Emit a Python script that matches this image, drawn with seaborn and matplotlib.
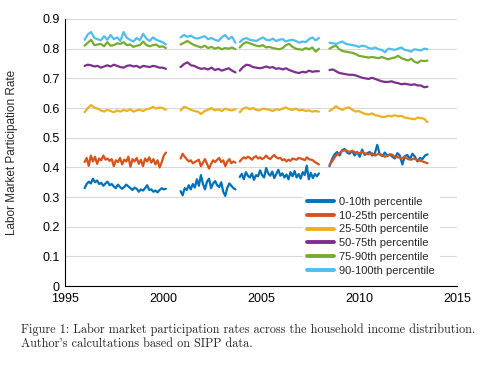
"""
Labor market participation rates across the household income distribution
(SIPP panels 1996, 2001, 2004, 2008). Values read off the published figure.
"""

import numpy as np
import pandas as pd
import matplotlib.pyplot as plt
import seaborn as sns
from matplotlib.ticker import FuncFormatter

# ---------------------------------------------------------------
# 1. Data (one sub-list per SIPP panel)
# ---------------------------------------------------------------
panel_spans = [(1996.0, 2000.15), (2000.9, 2003.7), (2003.92, 2007.96), (2008.5, 2013.5)]

groups = ["0-10th percentile", "10-25th percentile", "25-50th percentile",
          "50-75th percentile", "75-90th percentile", "90-100th percentile"]
colors = ["#0072BD", "#D95319", "#EDB120", "#7E2F8E", "#77AC30", "#4DBEEE"]

pct_0_10 = [
    [0.330, 0.344, 0.352, 0.346, 0.362, 0.350, 0.356, 0.344, 0.348, 0.338, 0.346, 0.352, 0.340, 0.344,
     0.336, 0.330, 0.342, 0.334, 0.328, 0.334, 0.342, 0.336, 0.330, 0.324, 0.332, 0.328, 0.318, 0.326,
     0.322, 0.330, 0.340, 0.324, 0.326, 0.318, 0.322, 0.316, 0.324, 0.330, 0.326, 0.328],
    [0.320, 0.306, 0.330, 0.324, 0.340, 0.326, 0.344, 0.332, 0.360, 0.338, 0.374, 0.344, 0.326, 0.352,
     0.362, 0.330, 0.346, 0.354, 0.340, 0.334, 0.350, 0.318, 0.304, 0.332, 0.346, 0.338, 0.330, 0.326],
    [0.368, 0.378, 0.360, 0.384, 0.372, 0.366, 0.380, 0.358, 0.374, 0.370, 0.390, 0.374, 0.366, 0.398,
     0.380, 0.372, 0.386, 0.364, 0.378, 0.392, 0.372, 0.380, 0.366, 0.376, 0.360, 0.384, 0.370, 0.388,
     0.366, 0.378, 0.362, 0.384, 0.374, 0.406, 0.360, 0.382, 0.364, 0.378, 0.370, 0.380],
    [0.404, 0.428, 0.444, 0.452, 0.440, 0.458, 0.462, 0.450, 0.446, 0.456, 0.440, 0.452, 0.436, 0.460,
     0.442, 0.448, 0.452, 0.440, 0.446, 0.476, 0.444, 0.438, 0.450, 0.440, 0.444, 0.436, 0.430, 0.448,
     0.440, 0.410, 0.438, 0.442, 0.428, 0.446, 0.436, 0.420, 0.432, 0.428, 0.440, 0.444],
]

pct_10_25 = [
    [0.418, 0.432, 0.405, 0.440, 0.420, 0.436, 0.412, 0.430, 0.424, 0.440, 0.426, 0.430, 0.422, 0.428,
     0.404, 0.424, 0.418, 0.432, 0.410, 0.426, 0.420, 0.436, 0.402, 0.428, 0.420, 0.432, 0.412, 0.426,
     0.404, 0.430, 0.420, 0.434, 0.416, 0.428, 0.410, 0.424, 0.400, 0.418, 0.440, 0.450],
    [0.430, 0.446, 0.436, 0.428, 0.420, 0.424, 0.414, 0.418, 0.422, 0.426, 0.404, 0.416, 0.428, 0.412,
     0.396, 0.412, 0.424, 0.418, 0.426, 0.432, 0.418, 0.424, 0.404, 0.420, 0.428, 0.414, 0.420, 0.416],
    [0.420, 0.428, 0.434, 0.430, 0.436, 0.432, 0.426, 0.434, 0.438, 0.430, 0.434, 0.428, 0.432, 0.440,
     0.432, 0.428, 0.436, 0.442, 0.434, 0.430, 0.432, 0.424, 0.428, 0.420, 0.426, 0.422, 0.430, 0.428,
     0.426, 0.432, 0.430, 0.428, 0.424, 0.434, 0.428, 0.426, 0.424, 0.418, 0.414, 0.410],
    [0.408, 0.424, 0.440, 0.448, 0.456, 0.458, 0.452, 0.456, 0.450, 0.448, 0.452, 0.446, 0.444, 0.448,
     0.440, 0.446, 0.442, 0.436, 0.440, 0.444, 0.436, 0.434, 0.430, 0.436, 0.428, 0.426, 0.430, 0.424,
     0.422, 0.418, 0.414],
]

pct_25_50 = [
    [0.586, 0.600, 0.610, 0.602, 0.598, 0.592, 0.588, 0.594, 0.590, 0.586, 0.592, 0.588, 0.594, 0.590,
     0.596, 0.588, 0.592, 0.594, 0.590, 0.596, 0.598, 0.604, 0.598, 0.602, 0.600, 0.594],
    [0.592, 0.604, 0.600, 0.594, 0.590, 0.588, 0.580, 0.590, 0.594, 0.600, 0.592, 0.596, 0.590, 0.598,
     0.594, 0.592, 0.596],
    [0.586, 0.598, 0.602, 0.596, 0.600, 0.594, 0.592, 0.598, 0.596, 0.594, 0.590, 0.596, 0.594, 0.598,
     0.602, 0.596, 0.594, 0.598, 0.592, 0.594, 0.590, 0.592, 0.588, 0.590, 0.588],
    [0.590, 0.598, 0.606, 0.598, 0.594, 0.600, 0.602, 0.594, 0.588, 0.590, 0.584, 0.580, 0.578, 0.582,
     0.576, 0.574, 0.570, 0.570, 0.574, 0.572, 0.576, 0.572, 0.574, 0.568, 0.566, 0.564, 0.562, 0.568,
     0.566, 0.564, 0.552],
]

pct_50_75 = [
    [0.742, 0.746, 0.744, 0.740, 0.742, 0.736, 0.740, 0.744, 0.740, 0.746, 0.742, 0.738, 0.736, 0.742,
     0.744, 0.740, 0.742, 0.736, 0.742, 0.740, 0.738, 0.742, 0.740, 0.736, 0.736, 0.732],
    [0.738, 0.748, 0.754, 0.744, 0.742, 0.736, 0.732, 0.734, 0.730, 0.736, 0.728, 0.732, 0.726, 0.730,
     0.734, 0.726, 0.720],
    [0.726, 0.738, 0.746, 0.744, 0.738, 0.736, 0.734, 0.736, 0.740, 0.736, 0.738, 0.732, 0.734, 0.730,
     0.734, 0.728, 0.724, 0.720, 0.718, 0.722, 0.720, 0.726, 0.722, 0.724, 0.724],
    [0.728, 0.730, 0.724, 0.718, 0.716, 0.714, 0.712, 0.712, 0.710, 0.706, 0.702, 0.700, 0.698, 0.702,
     0.698, 0.694, 0.690, 0.688, 0.688, 0.690, 0.686, 0.684, 0.680, 0.682, 0.680, 0.678, 0.680, 0.676,
     0.676, 0.670, 0.672],
]

pct_75_90 = [
    [0.810, 0.820, 0.830, 0.812, 0.814, 0.816, 0.808, 0.822, 0.810, 0.812, 0.818, 0.816, 0.822, 0.812,
     0.814, 0.806, 0.810, 0.812, 0.824, 0.812, 0.808, 0.812, 0.814, 0.806, 0.808, 0.802],
    [0.814, 0.820, 0.826, 0.818, 0.812, 0.808, 0.804, 0.810, 0.802, 0.806, 0.800, 0.804, 0.798, 0.802,
     0.800, 0.804, 0.798],
    [0.804, 0.816, 0.822, 0.818, 0.814, 0.810, 0.808, 0.812, 0.804, 0.806, 0.802, 0.800, 0.798, 0.802,
     0.812, 0.816, 0.806, 0.800, 0.798, 0.796, 0.802, 0.798, 0.804, 0.790, 0.800],
    [0.800, 0.806, 0.810, 0.798, 0.792, 0.790, 0.788, 0.786, 0.782, 0.776, 0.774, 0.772, 0.770, 0.772,
     0.770, 0.768, 0.772, 0.768, 0.764, 0.768, 0.770, 0.776, 0.768, 0.764, 0.760, 0.766, 0.756, 0.752,
     0.760, 0.758, 0.760],
]

pct_90_100 = [
    [0.830, 0.848, 0.856, 0.836, 0.832, 0.828, 0.842, 0.830, 0.846, 0.832, 0.838, 0.826, 0.856, 0.836,
     0.830, 0.824, 0.836, 0.828, 0.850, 0.834, 0.826, 0.838, 0.830, 0.826, 0.822, 0.814],
    [0.838, 0.846, 0.840, 0.844, 0.836, 0.834, 0.838, 0.842, 0.832, 0.836, 0.830, 0.826, 0.838, 0.846,
     0.832, 0.840, 0.820],
    [0.822, 0.832, 0.836, 0.830, 0.828, 0.826, 0.832, 0.838, 0.830, 0.828, 0.834, 0.826, 0.830, 0.832,
     0.824, 0.828, 0.830, 0.826, 0.820, 0.824, 0.822, 0.832, 0.838, 0.828, 0.836],
    [0.820, 0.818, 0.816, 0.820, 0.824, 0.816, 0.814, 0.812, 0.810, 0.806, 0.810, 0.808, 0.802, 0.800,
     0.804, 0.798, 0.796, 0.788, 0.800, 0.798, 0.796, 0.800, 0.804, 0.796, 0.794, 0.790, 0.798, 0.796,
     0.794, 0.800, 0.798],
]

series = [pct_0_10, pct_10_25, pct_25_50, pct_50_75, pct_75_90, pct_90_100]

# long table: one row per (group, panel, month)
rows = []
for name, panels in zip(groups, series):
    for p, (vals, (start, end)) in enumerate(zip(panels, panel_spans)):
        years = np.linspace(start, end, len(vals))
        for yr, v in zip(years, vals):
            rows.append({"year": yr, "rate": v, "group": name, "panel": p})
df = pd.DataFrame(rows)

# ---------------------------------------------------------------
# 2. Plot
# ---------------------------------------------------------------
sns.set_theme(style="white")
plt.rcParams["font.family"] = ["Liberation Sans", "DejaVu Sans"]

fig = plt.figure(figsize=(4.85, 3.65), dpi=100)
ax = fig.add_axes([0.134, 0.216, 0.808, 0.732])

sns.lineplot(data=df, x="year", y="rate", hue="group", hue_order=groups,
             units="panel", estimator=None, palette=colors, linewidth=1.6,
             ax=ax, sort=False)

ax.set_xlim(1995, 2015)
ax.set_ylim(0, 0.9)
ax.set_xticks([1995, 2000, 2005, 2010, 2015])
ax.set_yticks(np.arange(0, 0.91, 0.1))
ax.yaxis.set_major_formatter(FuncFormatter(lambda v, _: "0" if abs(v) < 1e-9 else f"{v:.1f}"))
ax.yaxis.grid(True, color="#d9d9d9", linewidth=0.8)
ax.xaxis.grid(False)
ax.set_axisbelow(True)

for side in ["top", "right"]:
    ax.spines[side].set_visible(False)
for side in ["left", "bottom"]:
    ax.spines[side].set_color("black")
    ax.spines[side].set_linewidth(0.8)

ax.tick_params(axis="both", direction="in", length=4, width=0.8, color="black",
               labelsize=9, labelcolor="black", pad=4)
ax.tick_params(axis="x", pad=5)
ax.set_xlabel("")
ax.set_ylabel("Labor Market Participation Rate", fontsize=8.5, labelpad=17)

handles, labels = ax.get_legend_handles_labels()
leg = ax.legend(handles, labels, loc="lower right", bbox_to_anchor=(0.97, 0.0),
                fontsize=8, frameon=True, framealpha=1, edgecolor="none",
                facecolor="white", handlelength=2.4, handletextpad=0.5,
                labelspacing=0.35, borderpad=0.4)
for line in leg.get_lines():
    line.set_linewidth(2.8)

fig.text(0.043, 0.077,
         "Figure 1: Labor market participation rates across the household income distribution.\n"
         "Author's calcultations based on SIPP data.",
         family=["cmr10", "DejaVu Serif"], fontsize=8.8, va="center", ha="left",
         linespacing=1.15)

plt.savefig("out.png", dpi=100)
plt.close()
